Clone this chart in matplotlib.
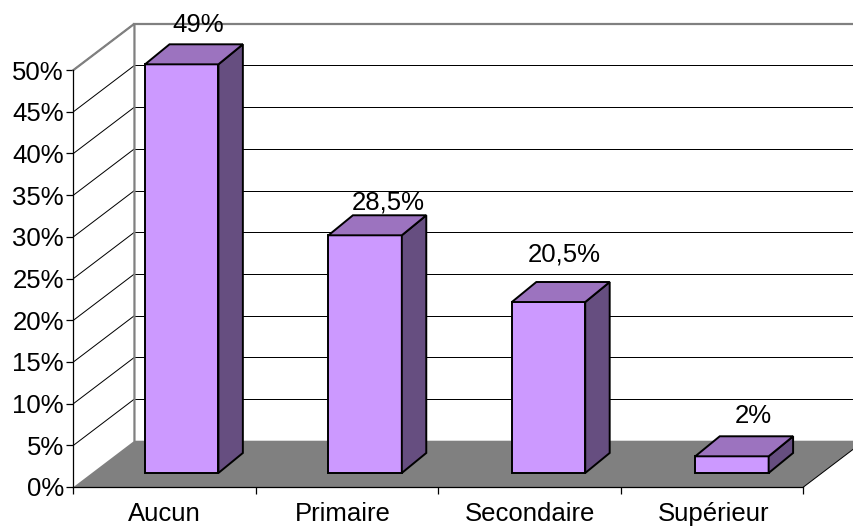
import matplotlib
matplotlib.use('Agg')
import matplotlib.pyplot as plt
from matplotlib.patches import Polygon

plt.rcParams['font.family'] = ['Liberation Sans', 'DejaVu Sans']

categories = ['Aucun', 'Primaire', 'Secondaire', 'Supérieur']
values = [49, 28.5, 20.5, 2]
value_labels = ['49%', '28,5%', '20,5%', '2%']
y_ticks = [0, 5, 10, 15, 20, 25, 30, 35, 40, 45, 50]

# label nudges relative to their bar top / category centre (pixels)
label_lift = [39, 33, 48, 40]
label_shift = [4, 11, 3.5, 9.5]
category_shift = [0, -4, 0, 1]

# depth of the 3D box, in data units
wall_dx, wall_dy = 0.334, 5.55
bar_dx, bar_dy = 0.134, 2.4
bar_start, bar_step, bar_width, bar_base = 0.392, 1.005, 0.402, 1.68

fig = plt.figure(figsize=(8.54, 5.29), dpi=100)
ax = fig.add_axes([73.5 / 854, 1 - 487 / 529, 730 / 854, 417 / 529])
ax.set_xlim(0, 4)
ax.set_ylim(0, 50)


def poly(points, **kw):
    ax.add_patch(Polygon(points, closed=True, clip_on=False, **kw))


# floor
poly([(0, 0), (wall_dx, wall_dy), (4 + wall_dx, wall_dy), (4, 0)],
     facecolor='#808080', edgecolor='none', zorder=1)

# grid lines on side wall and back wall
for t in y_ticks[1:]:
    ax.plot([0, wall_dx], [t, t + wall_dy], color='black', lw=0.72, clip_on=False, zorder=1.5)
    if t < 50:
        ax.plot([wall_dx, 4 + wall_dx], [t + wall_dy, t + wall_dy], color='black', lw=0.72,
                clip_on=False, zorder=1.5)

# floor right edge, then grey wall outline
ax.plot([4, 4 + wall_dx], [0, wall_dy], color='black', lw=0.72, clip_on=False, zorder=1.5)
ax.plot([0, wall_dx, wall_dx], [50, 50 + wall_dy, wall_dy], color='#808080', lw=1.6,
        clip_on=False, zorder=2, solid_joinstyle='miter')
ax.plot([wall_dx, 4 + wall_dx], [50 + wall_dy, 50 + wall_dy], color='#808080', lw=1.6,
        clip_on=False, zorder=2)

# bars
for i, v in enumerate(values):
    x0 = bar_start + i * bar_step
    x1 = x0 + bar_width
    y0 = bar_base
    y1 = bar_base + v
    style = dict(edgecolor='black', lw=1.4, joinstyle='miter', zorder=3)
    poly([(x0, y0), (x1, y0), (x1, y1), (x0, y1)], facecolor='#CC99FF', **style)
    poly([(x1, y0), (x1 + bar_dx, y0 + bar_dy), (x1 + bar_dx, y1 + bar_dy), (x1, y1)],
         facecolor='#664E80', **style)
    poly([(x0, y1), (x1, y1), (x1 + bar_dx, y1 + bar_dy), (x0 + bar_dx, y1 + bar_dy)],
         facecolor='#9C73BF', **style)
    ax.annotate(value_labels[i], (x0 + bar_width / 2 + bar_dx / 2, y1),
                xytext=(label_shift[i] * 0.72, label_lift[i] * 0.72),
                textcoords='offset points', ha='center', va='center', fontsize=18.5, zorder=4,
                annotation_clip=False)
    ax.annotate(categories[i], (i + 0.5, 0), xytext=(category_shift[i] * 0.72, -27 * 0.72),
                textcoords='offset points', ha='center', va='center', fontsize=18.5,
                annotation_clip=False)

for side in ['top', 'right']:
    ax.spines[side].set_visible(False)
for side in ['left', 'bottom']:
    ax.spines[side].set_linewidth(0.9)
    ax.spines[side].set_zorder(2.5)

ax.patch.set_visible(False)
ax.set_yticks(y_ticks)
ax.set_yticklabels([f'{t}%' for t in y_ticks], fontsize=18.5)
ax.set_xticks(range(5))
ax.set_xticklabels([])
ax.tick_params(axis='both', which='major', length=5, width=0.9, direction='out', pad=2)

fig.savefig('out.png', dpi=100)
